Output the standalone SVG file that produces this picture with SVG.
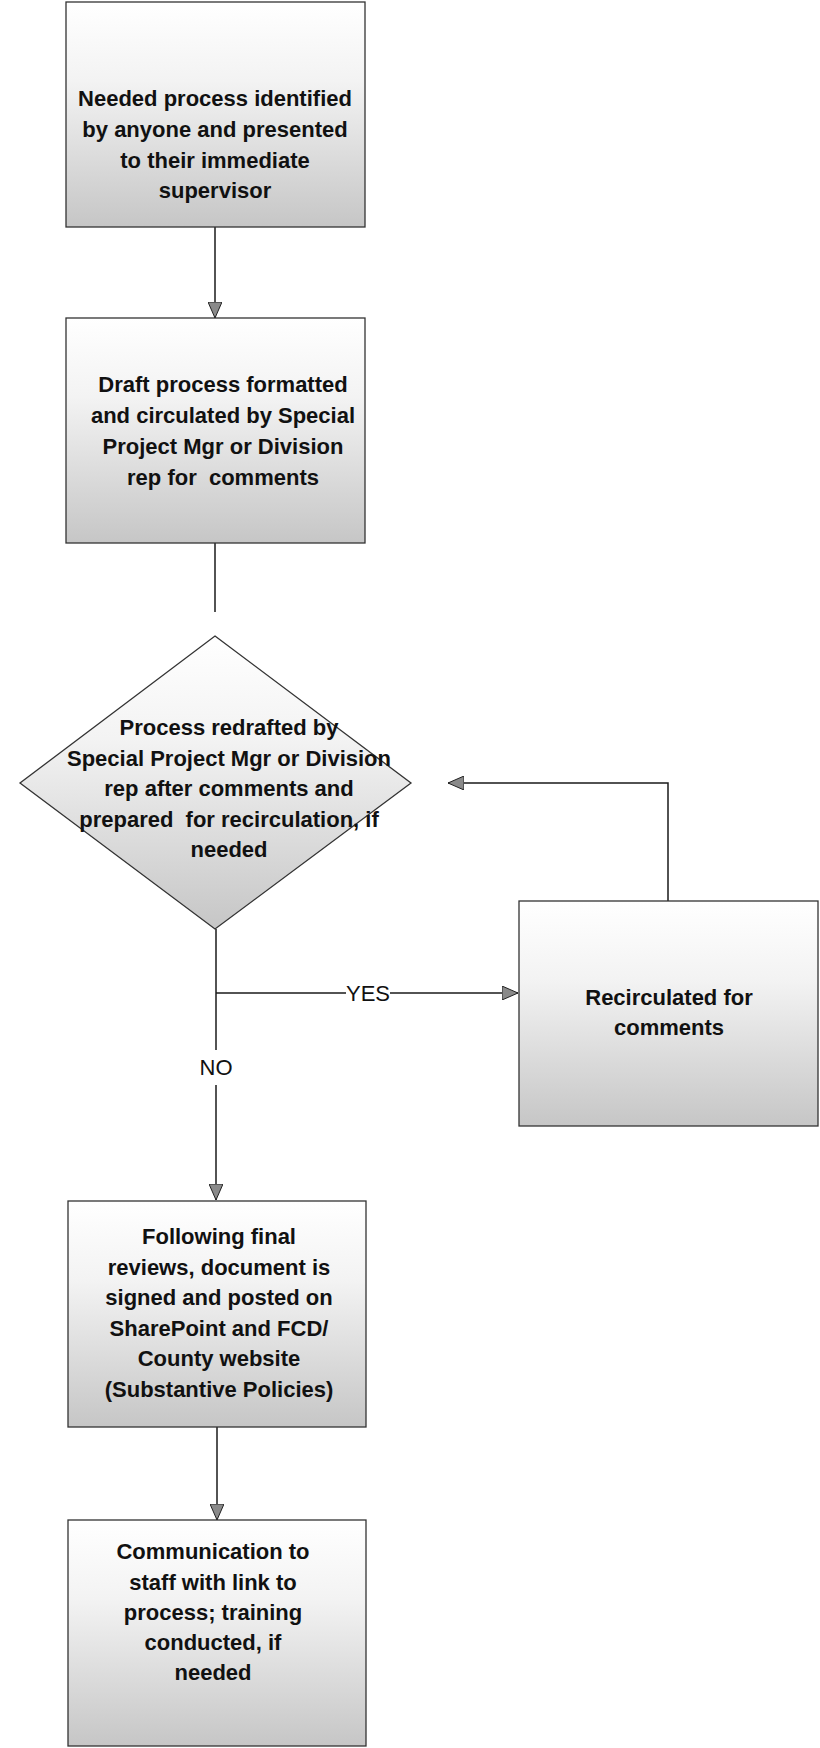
<svg xmlns="http://www.w3.org/2000/svg" width="820" height="1748" viewBox="0 0 820 1748">
<style>
.box{stroke:#333;stroke-width:1.3}
.t{font-family:"Liberation Sans",Arial,sans-serif;font-weight:bold;font-size:22px;fill:#111;text-anchor:middle;white-space:pre}
.lbl{font-family:"Liberation Sans",Arial,sans-serif;font-size:22px;fill:#111;text-anchor:middle}
.c{stroke:#1a1a1a;stroke-width:1.5;fill:none}
</style>
<defs>
<linearGradient id="g" x1="0" y1="0" x2="0" y2="1">
<stop offset="0" stop-color="#ffffff"/>
<stop offset="0.35" stop-color="#f3f3f3"/>
<stop offset="1" stop-color="#c6c6c6"/>
</linearGradient>
<marker id="ah" viewBox="0 0 16 14" refX="16" refY="7" markerWidth="16" markerHeight="14" markerUnits="userSpaceOnUse" orient="auto">
<path d="M0,0 L16,7 L0,14 Z" fill="#8a8a8a" stroke="#222" stroke-width="1"/>
</marker>
</defs>

<g id="connectors">
<line class="c" x1="215" y1="227" x2="215" y2="318" marker-end="url(#ah)"/>
<line class="c" x1="215" y1="543" x2="215" y2="612"/>
<line class="c" x1="216" y1="929" x2="216" y2="1050"/>
<line class="c" x1="216" y1="1085" x2="216" y2="1200" marker-end="url(#ah)"/>
<line class="c" x1="216" y1="993" x2="346" y2="993"/>
<line class="c" x1="390" y1="993" x2="518" y2="993" marker-end="url(#ah)"/>
<polyline class="c" points="668,901 668,783 448,783" marker-end="url(#ah)"/>
<line class="c" x1="217" y1="1427" x2="217" y2="1520" marker-end="url(#ah)"/>
<text class="lbl" x="368" y="1001">YES</text>
<text class="lbl" x="216" y="1075">NO</text>
</g>

<g id="n1">
<rect class="box" x="66" y="2" width="299" height="225" fill="url(#g)"/>
<text class="t" x="215" y="106">Needed process identified</text>
<text class="t" x="215" y="137">by anyone and presented</text>
<text class="t" x="215" y="168">to their immediate</text>
<text class="t" x="215" y="198">supervisor</text>
</g>

<g id="n2">
<rect class="box" x="66" y="318" width="299" height="225" fill="url(#g)"/>
<text class="t" x="223" y="392">Draft process formatted</text>
<text class="t" x="223" y="423">and circulated by Special</text>
<text class="t" x="223" y="454">Project Mgr or Division</text>
<text class="t" x="223" y="485">rep for  comments</text>
</g>

<g id="n3">
<polygon class="box" points="215,636 411,783 215,929 20,783" fill="url(#g)"/>
<text class="t" x="229" y="735">Process redrafted by</text>
<text class="t" x="229" y="766">Special Project Mgr or Division</text>
<text class="t" x="229" y="796">rep after comments and</text>
<text class="t" x="229" y="827">prepared  for recirculation, if</text>
<text class="t" x="229" y="857">needed</text>
</g>

<g id="n4">
<rect class="box" x="519" y="901" width="299" height="225" fill="url(#g)"/>
<text class="t" x="669" y="1005">Recirculated for</text>
<text class="t" x="669" y="1035">comments</text>
</g>

<g id="n5">
<rect class="box" x="68" y="1201" width="298" height="226" fill="url(#g)"/>
<text class="t" x="219" y="1244">Following final</text>
<text class="t" x="219" y="1275">reviews, document is</text>
<text class="t" x="219" y="1305">signed and posted on</text>
<text class="t" x="219" y="1336">SharePoint and FCD/</text>
<text class="t" x="219" y="1366">County website</text>
<text class="t" x="219" y="1397">(Substantive Policies)</text>
</g>

<g id="n6">
<rect class="box" x="68" y="1520" width="298" height="226" fill="url(#g)"/>
<text class="t" x="213" y="1559">Communication to</text>
<text class="t" x="213" y="1590">staff with link to</text>
<text class="t" x="213" y="1620">process; training</text>
<text class="t" x="213" y="1650">conducted, if</text>
<text class="t" x="213" y="1680">needed</text>
</g>
</svg>
